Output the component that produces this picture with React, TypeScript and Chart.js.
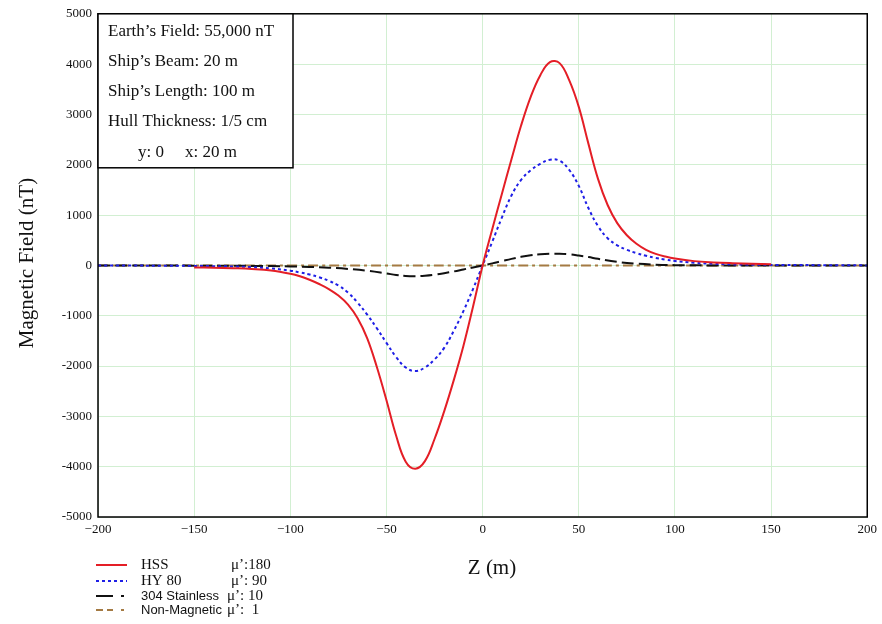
import React, { useEffect, useRef } from "react";
import { Chart, registerables } from "chart.js";

Chart.register(...registerables);

const W = 882;
const H = 624;

// ---- data ----
const zHSS = [-150, -140, -130, -120, -110, -100, -95, -90, -85, -80, -75, -70, -65, -60, -55, -50, -45, -40, -35, -30, -25, -20, -15, -10, -5, 0, 5, 10, 15, 20, 25, 30, 35, 40, 45, 50, 55, 60, 65, 70, 75, 80, 85, 90, 95, 100, 110, 120, 130, 140, 150];
const hss = [-40, -45, -55, -70, -100, -165, -215, -285, -370, -470, -600, -780, -1050, -1450, -2020, -2680, -3380, -3900, -4040, -3890, -3450, -2900, -2280, -1600, -820, 0, 720, 1420, 2110, 2780, 3350, 3780, 4040, 4020, 3680, 3150, 2420, 1720, 1200, 840, 600, 430, 310, 230, 175, 135, 85, 60, 45, 35, 25];

const zHY80 = [-200, -150, -140, -130, -120, -110, -100, -95, -90, -85, -80, -75, -70, -65, -60, -55, -50, -45, -40, -35, -30, -25, -20, -15, -10, -5, 0, 5, 10, 15, 20, 25, 30, 35, 40, 45, 50, 55, 60, 65, 70, 75, 80, 85, 90, 95, 100, 110, 120, 130, 140, 150, 200];
const hy80 = [0, -10, -15, -22, -35, -60, -105, -140, -180, -235, -305, -400, -540, -740, -980, -1250, -1540, -1820, -2030, -2100, -2030, -1870, -1640, -1300, -910, -470, 0, 470, 950, 1390, 1700, 1890, 2020, 2100, 2080, 1900, 1580, 1140, 780, 540, 400, 310, 245, 190, 148, 115, 88, 52, 32, 20, 14, 10, 0];

const zSS304 = [-200, -150, -120, -100, -90, -80, -70, -60, -50, -45, -40, -35, -30, -25, -20, -15, -10, -5, 0, 5, 10, 15, 20, 25, 30, 35, 40, 45, 50, 55, 60, 70, 80, 90, 100, 120, 150, 200];
const ss304 = [0, -5, -10, -20, -30, -45, -70, -105, -160, -190, -210, -215, -205, -185, -155, -120, -80, -40, 0, 40, 85, 130, 170, 200, 220, 230, 230, 220, 195, 165, 130, 70, 35, 15, 5, 0, 0, 0];

const zNonMag = [-200, -100, 0, 100, 200];
const nonMag = [0, 0, 0, 0, 0];

const seriesNames = ["HSS", "HY 80", "304 Stainless", "Non-Magnetic"];
const muValues = ["μ’:180", "μ’: 90", "μ’: 10", "μ’:  1"];

const xTicks = [-200, -150, -100, -50, 0, 50, 100, 150, 200];
const yTicks = [-5000, -4000, -3000, -2000, -1000, 0, 1000, 2000, 3000, 4000, 5000];

const infoLines = [
  "Earth’s Field: 55,000 nT",
  "Ship’s Beam: 20 m",
  "Ship’s Length: 100 m",
  "Hull Thickness: 1/5 cm",
];
const infoLast = ["y: 0", "x: 20 m"];

const COLORS = ["#e41e26", "#1f1fe6", "#111111", "#a47a43"];
const DASHES: number[][] = [[], [3, 3], [12, 5], [10, 4, 3, 4]];

const SERIF = '"Liberation Serif", "Times New Roman", serif';
const SANS = '"Liberation Sans", Arial, sans-serif';

const pts = (xs: number[], ys: number[]) => xs.map((x, i) => ({ x, y: ys[i] }));

const overlay = {
  id: "overlay",
  afterDraw(chart: any) {
    const { ctx, chartArea: a } = chart;
    ctx.save();
    // plot border
    ctx.strokeStyle = "#000";
    ctx.lineWidth = 1.5;
    ctx.setLineDash([]);
    ctx.strokeRect(a.left, a.top, a.right - a.left, a.bottom - a.top);

    // info box
    const bx = a.left, by = a.top, bw = 195, bh = 154;
    ctx.fillStyle = "#fff";
    ctx.fillRect(bx, by, bw, bh);
    ctx.strokeRect(bx, by, bw, bh);
    ctx.fillStyle = "#111";
    ctx.font = `17px ${SERIF}`;
    ctx.textBaseline = "middle";
    ctx.textAlign = "left";
    infoLines.forEach((t, i) => ctx.fillText(t, bx + 10, by + 18 + i * 30));
    ctx.fillText(infoLast[0], bx + 40, by + 139);
    ctx.fillText(infoLast[1], bx + 87, by + 139);

    // axis titles
    ctx.font = `21px ${SERIF}`;
    ctx.textAlign = "center";
    ctx.fillText("Z (m)", 492, 568);
    ctx.save();
    ctx.translate(27, 263);
    ctx.rotate(-Math.PI / 2);
    ctx.fillText("Magnetic Field (nT)", 0, 0);
    ctx.restore();

    // legend
    const rows = [565, 581, 596, 610];
    const muX = [231, 231, 227, 227];
    rows.forEach((y, i) => {
      ctx.strokeStyle = COLORS[i];
      ctx.lineWidth = 2;
      ctx.beginPath();
      if (i === 0 || i === 1) {
        ctx.setLineDash(DASHES[i]);
        ctx.moveTo(96, y);
        ctx.lineTo(127, y);
      } else if (i === 2) {
        ctx.setLineDash([]);
        ctx.moveTo(96, y);
        ctx.lineTo(113, y);
        ctx.moveTo(121, y);
        ctx.lineTo(124, y);
      } else {
        ctx.setLineDash([]);
        ctx.moveTo(96, y);
        ctx.lineTo(103, y);
        ctx.moveTo(107, y);
        ctx.lineTo(113, y);
        ctx.moveTo(121, y);
        ctx.lineTo(124, y);
      }
      ctx.stroke();
      ctx.fillStyle = "#111";
      ctx.textAlign = "left";
      ctx.font = i < 2 ? `15px ${SERIF}` : `13px ${SANS}`;
      ctx.fillText(seriesNames[i], 141, y);
      ctx.font = `15px ${SERIF}`;
      ctx.fillText(muValues[i], muX[i], y);
    });
    ctx.restore();
  },
};

export default function App() {
  const ref = useRef<HTMLCanvasElement>(null);
  useEffect(() => {
    const canvas = ref.current;
    if (!canvas) return;
    const common = { pointRadius: 0, borderWidth: 2, fill: false, tension: 0.4 };
    const chart = new Chart(canvas, {
      type: "line",
      data: {
        datasets: [
          { label: seriesNames[0], data: pts(zHSS, hss), borderColor: COLORS[0], borderDash: DASHES[0], ...common },
          { label: seriesNames[1], data: pts(zHY80, hy80), borderColor: COLORS[1], borderDash: DASHES[1], ...common },
          { label: seriesNames[2], data: pts(zSS304, ss304), borderColor: COLORS[2], borderDash: DASHES[2], ...common },
          { label: seriesNames[3], data: pts(zNonMag, nonMag), borderColor: COLORS[3], borderDash: DASHES[3], ...common },
        ],
      },
      options: {
        responsive: false,
        animation: false,
        devicePixelRatio: 1,
        layout: { padding: { top: 11, right: 14, left: 0, bottom: 0 } },
        plugins: { legend: { display: false }, title: { display: false }, tooltip: { enabled: false } },
        scales: {
          x: {
            type: "linear",
            min: -200,
            max: 200,
            afterBuildTicks: (s: any) => { s.ticks = xTicks.map((v) => ({ value: v })); },
            afterFit: (s: any) => { s.height = 107; },
            ticks: {
              color: "#111",
              padding: 5,
              maxRotation: 0,
              font: { family: SERIF, size: 13 },
              callback: (v: any) => (v < 0 ? "−" + Math.abs(v) : String(v)),
            },
            grid: { color: "#d2efd2", lineWidth: 1, drawTicks: false },
            border: { display: false },
          },
          y: {
            type: "linear",
            min: -5000,
            max: 5000,
            afterBuildTicks: (s: any) => { s.ticks = yTicks.map((v) => ({ value: v })); },
            afterFit: (s: any) => { s.width = 98; },
            ticks: {
              color: "#111",
              padding: 6,
              font: { family: SERIF, size: 13 },
              callback: (v: any) => String(v),
            },
            grid: { color: "#d2efd2", lineWidth: 1, drawTicks: false },
            border: { display: false },
          },
        },
      },
      plugins: [overlay],
    });
    return () => chart.destroy();
  }, []);
  return (
    <div style={{ position: "fixed", left: 0, top: 0, width: W, height: H, background: "#fff" }}>
      <canvas ref={ref} width={W} height={H} style={{ display: "block", width: W, height: H }} />
    </div>
  );
}
